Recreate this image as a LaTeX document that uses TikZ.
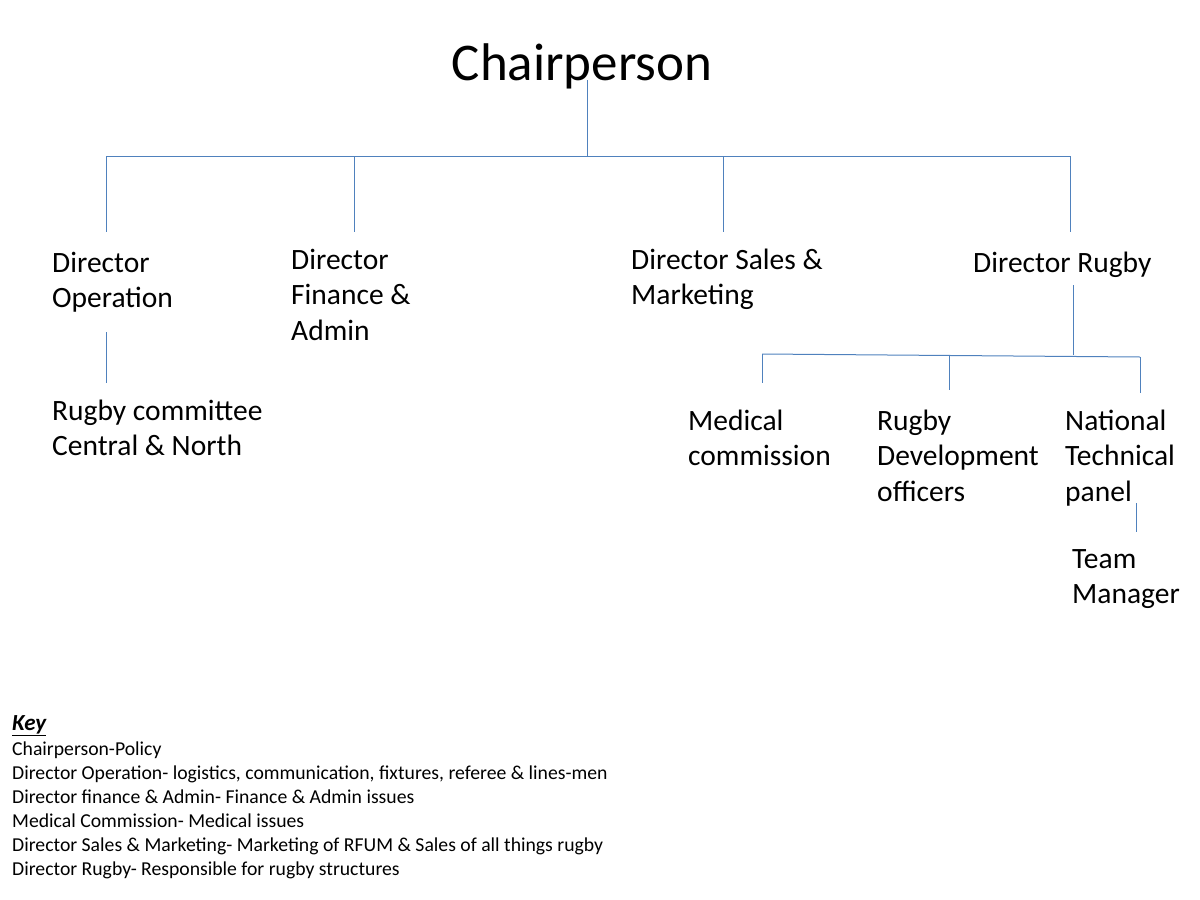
\documentclass[tikz,border=0pt]{standalone}
\usepackage{fontspec}
\setmainfont{Carlito}
\begin{document}
\begin{tikzpicture}[x=1pt,y=-1pt,
  ln/.style={draw={rgb,255:red,79;green,129;blue,189},line width=1pt},
  lbl/.style={anchor=base west,inner sep=0pt,align=left,font=\fontsize{29.5}{35.5}\selectfont},
  keyt/.style={anchor=base west,inner sep=0pt,font=\fontsize{19.7}{24}\selectfont}]
\useasboundingbox (0,0) rectangle (1200,900);
\node[anchor=base,inner sep=0pt,font=\fontsize{53}{60}\selectfont] (chair) at (582,80) {Chairperson};
\coordinate (c0) at (587,80); \coordinate (c1) at (587,156);
\coordinate (hL) at (106,156); \coordinate (hR) at (1070,156);
\draw[ln] (c0)--(c1); \draw[ln] (hL)--(hR);
\foreach \x/\n in {106/a,354/b,723/c,1070/d}{
  \coordinate (t\n) at (\x,156); \coordinate (b\n) at (\x,232);
  \draw[ln] (t\n)--(b\n);}
\node[lbl] (dop) at (52,307.5) {Director\\Operation};
\node[lbl] (dfin) at (291,340) {Director\\Finance \&\\Admin};
\node[lbl] (dsal) at (631,304.5) {Director Sales \&\\Marketing};
\node[lbl] (drug) at (973,272) {Director Rugby};
\coordinate (o1) at (106,332); \coordinate (o2) at (106,383);
\draw[ln] (o1)--(o2);
\node[lbl] (rc) at (52,455.5) {Rugby committee\\Central \& North};
\coordinate (r1) at (1073,285); \coordinate (r2) at (1073,355);
\draw[ln] (r1)--(r2);
\coordinate (mL) at (762,354); \coordinate (mR) at (1140,357);
\draw[ln] (mL)--(mR);
\coordinate (m1) at (762,383); \draw[ln] (mL)--(m1);
\coordinate (d1) at (949,356); \coordinate (d2) at (949,390); \draw[ln] (d1)--(d2);
\coordinate (n2) at (1140,393); \draw[ln] (mR)--(n2);
\node[lbl] (med) at (688,465.5) {Medical\\commission};
\node[lbl] (rdo) at (877,501) {Rugby\\Development\\officers};
\node[lbl] (ntp) at (1065,501) {National\\Technical\\panel};
\coordinate (p1) at (1136,503); \coordinate (p2) at (1136,532); \draw[ln] (p1)--(p2);
\node[lbl] (tm) at (1072,603.5) {Team\\Manager};
\node[keyt,font=\fontsize{23}{24}\selectfont\bfseries\itshape] (key) at (12,730) {\underline{Key}};
\node[keyt] (k1) at (12,755) {Chairperson-Policy};
\node[keyt] (k2) at (12,779) {Director Operation- logistics, communication, fixtures, referee \& lines-men};
\node[keyt] (k3) at (12,803) {Director finance \& Admin- Finance \& Admin issues};
\node[keyt] (k4) at (12,827) {Medical Commission- Medical issues};
\node[keyt] (k5) at (12,851) {Director Sales \& Marketing- Marketing of RFUM \& Sales of all things rugby};
\node[keyt] (k6) at (12,875) {Director Rugby- Responsible for rugby structures};
\end{tikzpicture}
\end{document}
